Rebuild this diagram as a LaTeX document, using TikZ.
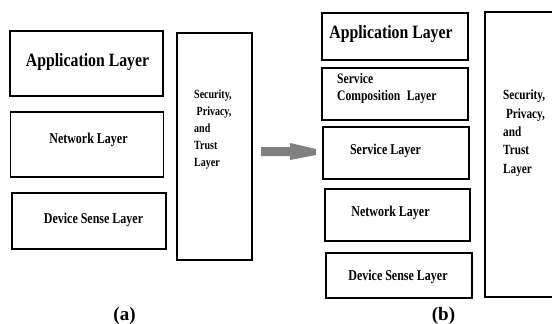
\documentclass[tikz,border=0pt]{standalone}
\usepackage{fontspec}
\setmainfont{Liberation Serif}
\newfontfamily\condserif[FakeStretch=0.8]{Liberation Serif}
\newfontfamily\headserif[FakeStretch=0.84]{Liberation Serif}
\begin{document}
\begin{tikzpicture}[x=1pt,y=-1pt,
  layerbox/.style={draw=black,line width=1.2pt,rectangle,inner sep=0pt},
  bigtext/.style={font=\headserif\bfseries\fontsize{18.8}{21}\selectfont,inner sep=0pt},
  midtext/.style={font=\condserif\bfseries\fontsize{15}{17}\selectfont,inner sep=0pt},
  sidetext/.style={align=left,inner sep=0pt,anchor=north west},
  captext/.style={font=\bfseries\fontsize{19}{22}\selectfont,inner sep=0pt}]
\clip (0,0) rectangle (552,324);

% ---- (a) four-layer stack ----
\node[layerbox,minimum width=153pt,minimum height=65pt] (aApp) at (86.5,63.5) {};
\node[bigtext] (aAppT) at (87.5,62) {Application Layer};
\node[layerbox,minimum width=153pt,minimum height=65pt] (aNet) at (87,144.5) {};
\node[midtext] (aNetT) at (88.5,140) {Network Layer};
\node[layerbox,minimum width=154pt,minimum height=56pt] (aDev) at (89,221) {};
\node[midtext] (aDevT) at (93.5,219.5) {Device Sense Layer};
\node[layerbox,minimum width=75pt,minimum height=227pt] (aSec) at (214.5,146.5) {};
\node[sidetext,font=\condserif\bfseries\fontsize{12.5}{17}\selectfont] (aSecT) at (194,90)
  {Security,\\ \ Privacy,\\and\\Trust\\Layer};
\node[captext] (capA) at (124.5,316) {(a)};

% ---- arrow between the two stacks ----
\coordinate (arrTail) at (261,151.5);
\fill[black!50] (arrTail) ++(0,-4.5) -- ++(29,0) -- ++(0,-4) -- ++(26,6)
  -- ++(0,6) -- ++(-26,5) -- ++(0,-4) -- ++(-29,0) -- cycle;

% ---- (b) six-layer stack ----
\node[layerbox,minimum width=146pt,minimum height=47pt] (bApp) at (395,36.5) {};
\node[bigtext] (bAppT) at (391,34.5) {Application Layer};
\node[layerbox,minimum width=146pt,minimum height=52pt] (bComp) at (395,94) {};
\node[sidetext,font=\condserif\bfseries\fontsize{14.5}{17}\selectfont] (bCompT) at (337,73.5)
  {Service\\Composition\hspace{0.45em}Layer};
\node[layerbox,minimum width=146pt,minimum height=52pt] (bServ) at (396,153) {};
\node[midtext] (bServT) at (385.5,151) {Service Layer};
\node[layerbox,minimum width=145pt,minimum height=52pt] (bNet) at (397.5,215) {};
\node[midtext] (bNetT) at (390.5,213) {Network Layer};
\node[layerbox,minimum width=146pt,minimum height=45pt] (bDev) at (399,275.5) {};
\node[midtext] (bDevT) at (398,277) {Device Sense Layer};
% the security column runs past the right edge of the page
\node[layerbox,minimum width=130pt,minimum height=285pt] (bSec) at (550,154.5) {};
\node[sidetext,font=\condserif\bfseries\fontsize{14}{18.3}\selectfont] (bSecT) at (503,90)
  {Security,\\ \ Privacy,\\and\\Trust\\Layer};
\node[captext] (capB) at (443.5,316) {(b)};
\end{tikzpicture}
\end{document}
